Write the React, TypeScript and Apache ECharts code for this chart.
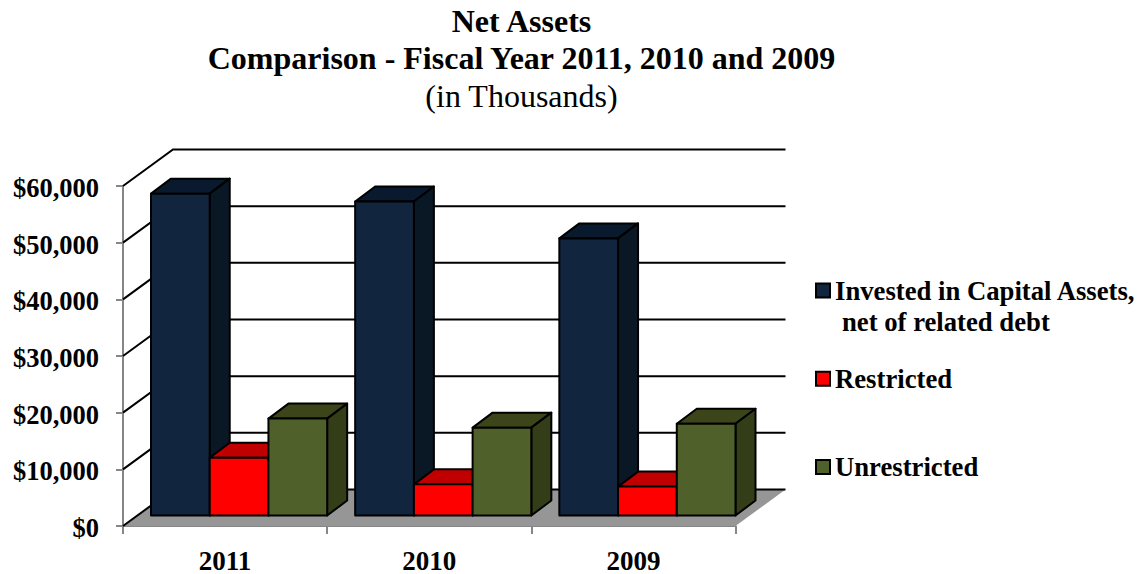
import React, { useEffect, useRef } from "react";
import * as echarts from "echarts";

const years = ["2011", "2010", "2009"];
const invested = [56800, 55400, 48900];
const restricted = [10200, 5500, 5100];
const unrestricted = [17100, 15500, 16200];
const seriesNames = ["Invested in Capital Assets,\n net of related debt", "Restricted", "Unrestricted"];
const yTicks = [0, 10000, 20000, 30000, 40000, 50000, 60000];

const serif = "'Liberation Serif', 'Times New Roman', serif";
const palettes = [
  { front: "#11253f", top: "#0a1a2e", side: "#0a1826" },
  { front: "#ff0000", top: "#c00000", side: "#a00000" },
  { front: "#50602a", top: "#3b4519", side: "#333e18" },
];

// Projection of the chart box: the rear wall sits up and to the right of the axes.
const WALL_DX = 50;
const WALL_DY = -36.5;
const BAR_SHIFT_Y = -10.5;
const BAR_DEPTH_X = 20;
const BAR_DEPTH_Y = -15;
const BAR_LEFT_GAP = 28;

function renderFloor(params: any, api: any) {
  const c = params.coordSys;
  const y = api.coord([0, 0])[1];
  return {
    type: "polygon",
    shape: {
      points: [
        [c.x, y],
        [c.x + WALL_DX, y + WALL_DY],
        [c.x + c.width + WALL_DX, y + WALL_DY],
        [c.x + c.width, y],
      ],
    },
    style: { fill: "#969696" },
  };
}

function renderWallLine(params: any, api: any) {
  const c = params.coordSys;
  const y = api.coord([0, api.value(1)])[1];
  return {
    type: "polyline",
    shape: {
      points: [
        [c.x, y],
        [c.x + WALL_DX, y + WALL_DY],
        [c.x + c.width + WALL_DX, y + WALL_DY],
      ],
    },
    style: { fill: "none", stroke: "#000", lineWidth: 2 },
  };
}

function barRenderer(slot: number) {
  const colors = palettes[slot];
  return (_params: any, api: any) => {
    const band = api.size([1, 0])[0];
    const [cx, rawTop] = api.coord([api.value(0), api.value(1)]);
    const rawBase = api.coord([api.value(0), 0])[1];
    const barWidth = (band - BAR_LEFT_GAP) / 3;
    const x0 = cx - band / 2 + BAR_LEFT_GAP + slot * barWidth;
    const x1 = x0 + barWidth;
    const top = rawTop + BAR_SHIFT_Y;
    const base = rawBase + BAR_SHIFT_Y;
    const edge = { stroke: "#000", lineWidth: 2, lineJoin: "round" };
    return {
      type: "group",
      children: [
        {
          type: "polygon",
          shape: { points: [[x0, top], [x0 + BAR_DEPTH_X, top + BAR_DEPTH_Y], [x1 + BAR_DEPTH_X, top + BAR_DEPTH_Y], [x1, top]] },
          style: { fill: colors.top, ...edge },
        },
        {
          type: "polygon",
          shape: { points: [[x1, top], [x1 + BAR_DEPTH_X, top + BAR_DEPTH_Y], [x1 + BAR_DEPTH_X, base + BAR_DEPTH_Y], [x1, base]] },
          style: { fill: colors.side, ...edge },
        },
        {
          type: "polygon",
          shape: { points: [[x0, top], [x1, top], [x1, base], [x0, base]] },
          style: { fill: colors.front, ...edge },
        },
      ],
    };
  };
}

export default function App() {
  const ref = useRef<HTMLDivElement>(null);

  useEffect(() => {
    document.body.style.margin = "0";
    const chart = echarts.init(ref.current!, undefined, { renderer: "svg" });
    const secondLine = seriesNames[0].split("\n")[1];
    const values = [invested, restricted, unrestricted];

    chart.setOption({
      animation: false,
      backgroundColor: "#fff",
      title: {
        left: 521.5,
        top: 2,
        padding: 0,
        textAlign: "center",
        text: "{b|Net Assets}\n{b|Comparison - Fiscal Year 2011, 2010 and 2009}\n{n|(in Thousands)}",
        textStyle: {
          rich: {
            b: { fontFamily: serif, fontWeight: "bold", fontSize: 32, lineHeight: 37.5, color: "#000" },
            n: { fontFamily: serif, fontWeight: "normal", fontSize: 32, lineHeight: 37.5, color: "#000" },
          },
        },
      },
      grid: { left: 123, top: 186, width: 612.5, height: 341 },
      legend: {
        orient: "vertical",
        left: 815,
        top: 277,
        padding: 0,
        itemWidth: 14,
        itemHeight: 14,
        itemGap: 61.3,
        icon: "rect",
        data: seriesNames,
        selectedMode: false,
        formatter: (name: string) => name.split("\n")[0],
        textStyle: { fontFamily: serif, fontWeight: "bold", fontSize: 26.7, color: "#000" },
        itemStyle: { borderColor: "#000", borderWidth: 2 },
      },
      xAxis: {
        type: "category",
        data: years,
        axisLine: { lineStyle: { color: "#868686", width: 2 } },
        axisTick: { show: true, length: 8, alignWithLabel: false, lineStyle: { color: "#868686", width: 2 } },
        axisLabel: { margin: 21, fontFamily: serif, fontWeight: "bold", fontSize: 27, color: "#000" },
      },
      yAxis: {
        type: "value",
        min: 0,
        max: 60000,
        interval: 10000,
        splitLine: { show: false },
        axisLine: { show: true, lineStyle: { color: "#868686", width: 2 } },
        axisTick: { show: true, length: 7, lineStyle: { color: "#868686", width: 2 } },
        axisLabel: {
          margin: 24,
          color: "#000",
          formatter: (v: number) => "{v|$" + v.toLocaleString("en-US") + "}",
          rich: {
            v: {
              fontFamily: serif,
              fontWeight: "bold",
              fontSize: 26.5,
              color: "#000",
              padding: [4, 0, 0, 0],
            },
          },
        },
      },
      graphic: [
        {
          type: "text",
          left: 842,
          top: 308,
          style: { text: secondLine.trim(), fontFamily: serif, fontWeight: "bold", fontSize: 26.7, fill: "#000" },
        },
      ],
      series: [
        { type: "custom", name: "floor", z: 1, renderItem: renderFloor, data: [[0, 0]], silent: true },
        { type: "custom", name: "wall", z: 2, renderItem: renderWallLine, data: yTicks.map((v) => [0, v]), silent: true },
        ...values.map((vals, slot) => ({
          type: "custom",
          name: seriesNames[slot],
          z: 3,
          itemStyle: { color: palettes[slot].front },
          renderItem: barRenderer(slot),
          encode: { x: 0, y: 1 },
          data: vals.map((v, i) => [i, v]),
        })),
      ],
    });

    return () => chart.dispose();
  }, []);

  return <div ref={ref} style={{ width: 1140, height: 574 }} />;
}
